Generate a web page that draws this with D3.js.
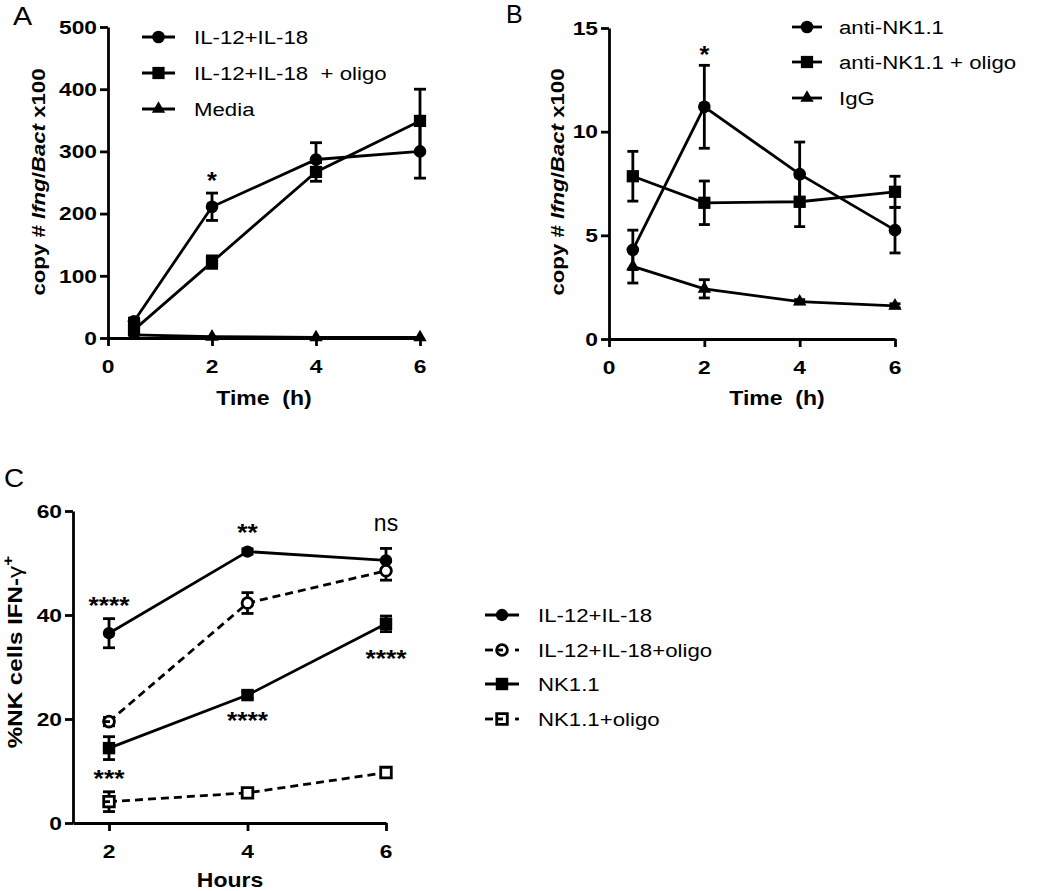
<!DOCTYPE html>
<html><head><meta charset="utf-8">
<script src="https://cdn.jsdelivr.net/npm/d3@7"></script>
<style>
body{margin:0;background:#fff}
svg{display:block}
text{font-family:"Liberation Sans",Arial,Helvetica,sans-serif;fill:#000;white-space:pre}
</style>
</head><body>
<svg id="chart" width="1050" height="891"></svg>
<script>
// ---------------- DATA ----------------
const timeAB = [0.5, 2, 4, 6];
const xTicksAB = [0, 2, 4, 6];
const yTicksA = [0, 100, 200, 300, 400, 500];
const yTicksB = [0, 5, 10, 15];

const seriesA_names = ["IL-12+IL-18", "IL-12+IL-18  + oligo", "Media"];
const aIL = [27, 211, 287, 300];
const aILerr = [5, 22, 27, 43];
const aOligo = [13, 122, 267, 349];
const aOligoErr = [8, 10, 15, 51];
const aMedia = [5, 2, 1, 1];
const aMediaErr = [0, 0, 0, 0];
const starsA = [{x: 2, y: 262, t: "*"}];

const seriesB_names = ["anti-NK1.1", "anti-NK1.1 + oligo", "IgG"];
const bNK = [4.3, 11.2, 7.95, 5.25];
const bNKerr = [0.95, 2.0, 1.55, 1.1];
const bOligo = [7.85, 6.57, 6.62, 7.1];
const bOligoErr = [1.2, 1.05, 1.2, 0.75];
const bIgG = [3.5, 2.42, 1.8, 1.6];
const bIgGerr = [0.8, 0.44, 0.1, 0.1];
const starsB = [{x: 2, y: 14.0, t: "*"}];

const timeC = [2, 4, 6];
const xTicksC = [2, 4, 6];
const yTicksC = [0, 20, 40, 60];
const seriesC_names = ["IL-12+IL-18", "IL-12+IL-18+oligo", "NK1.1", "NK1.1+oligo"];
const cIL = [36.5, 52.2, 50.5];
const cILerr = [2.8, 0.5, 2.3];
const cILo = [19.5, 42.3, 48.5];
const cILoErr = [0.8, 2.0, 1.8];
const cNK = [14.4, 24.6, 38.3];
const cNKerr = [2.2, 0.6, 1.5];
const cNKo = [4.1, 5.8, 9.7];
const cNKoErr = [1.9, 0.6, 0.5];
const starsC = [
  {x: 2, y: 42.9, t: "****"}, {x: 4, y: 56.9, t: "**"}, {x: 6, y: 57.3, t: "ns"},
  {x: 6, y: 32.7, t: "****"}, {x: 4, y: 20.8, t: "****"}, {x: 2, y: 9.6, t: "***"}
];

// ---------------- HELPERS ----------------
const svg = d3.select("#chart");
const SW = 2.8;

function stext(parent, x, y, parts, o) {
  const rot = o.rot ? ` rotate(${o.rot})` : "";
  const t = parent.append("text")
    .attr("transform", `translate(${x},${y})${rot} scale(${o.sx || 1},1)`)
    .attr("font-size", o.size)
    .attr("font-weight", o.weight || "normal")
    .attr("text-anchor", o.anchor || "start")
    .attr("xml:space", "preserve");
  if (typeof parts === "string") parts = [{t: parts}];
  parts.forEach(p => {
    const s = t.append("tspan").text(p.t);
    if (p.italic) s.attr("font-style", "italic");
    if (p.weight) s.attr("font-weight", p.weight);
    if (p.dy) s.attr("dy", p.dy);
    if (p.size) s.attr("font-size", p.size);
  });
  return t;
}

function axes(x, y, xt, yt) {
  const g = svg.append("g");
  const gx = g.append("g").attr("transform", `translate(0,${y.range()[0]})`)
    .call(d3.axisBottom(x).tickValues(xt).tickSize(8).tickSizeOuter(0));
  const gy = g.append("g").attr("transform", `translate(${x.range()[0]},0)`)
    .call(d3.axisLeft(y).tickValues(yt).tickSize(8).tickSizeOuter(0));
  g.selectAll(".domain, .tick line").attr("stroke", "#000").attr("stroke-width", SW);
  g.selectAll(".tick text").remove();
  xt.forEach(v => stext(gx, x(v), 35, String(v), {size: 19, weight: "bold", sx: 1.2, anchor: "middle"}));
  yt.forEach(v => stext(gy, -11, y(v) + 6.8, String(v), {size: 19, weight: "bold", sx: 1.2, anchor: "end"}));
  return g;
}

function symPath(kind, size) {
  const t = kind === "circle" ? d3.symbolCircle : kind === "square" ? d3.symbolSquare : d3.symbolTriangle;
  return d3.symbol().type(t).size(size)();
}

const SIZES = {circle: 125, square: 150, triangle: 78};
const OPEN_SIZES = {circle: 92, square: 112};

function drawMarker(g, cx, cy, s, inner) {
  const p = g.append("path").attr("d", symPath(s.symbol, s.open ? OPEN_SIZES[s.symbol] : (s.size || SIZES[s.symbol])))
    .attr("transform", `translate(${cx},${cy})`);
  if (s.open) {
    p.attr("fill", "#fff").attr("stroke", "#000").attr("stroke-width", SW);
    if (inner) {
      const h = 5.3;
      g.append("line").attr("x1", cx - h).attr("x2", cx + 1).attr("y1", cy).attr("y2", cy)
        .attr("stroke", "#000").attr("stroke-width", SW);
    }
  } else {
    p.attr("fill", "#000");
  }
}

function drawSeries(x, y, xs, series, cap) {
  const g = svg.append("g");
  const line = d3.line().x((d, i) => x(xs[i])).y(d => y(d));
  series.forEach(s => {
    g.append("path").datum(s.vals).attr("d", line).attr("fill", "none")
      .attr("stroke", "#000").attr("stroke-width", SW)
      .attr("stroke-dasharray", s.dash ? "8,5" : null);
  });
  series.forEach(s => {
    s.vals.forEach((v, i) => {
      const e = s.err[i];
      if (e > 0) {
        const cx = x(xs[i]);
        g.append("line").attr("x1", cx).attr("x2", cx).attr("y1", y(v - e)).attr("y2", y(v + e))
          .attr("stroke", "#000").attr("stroke-width", SW);
        [v - e, v + e].forEach(w => g.append("line").attr("x1", cx - cap).attr("x2", cx + cap)
          .attr("y1", y(w)).attr("y2", y(w)).attr("stroke", "#000").attr("stroke-width", SW));
      }
    });
  });
  series.forEach(s => {
    s.vals.forEach((v, i) => drawMarker(g, x(xs[i]), y(v), s, s.open && i === 0));
  });
}

function legend(x0, x1, xText, rows, series) {
  const g = svg.append("g");
  series.forEach((s, i) => {
    const cy = rows[i];
    const mid = (x0 + x1) / 2;
    if (s.dash) {
      g.append("line").attr("x1", x0).attr("x2", x0 + 8).attr("y1", cy).attr("y2", cy).attr("stroke", "#000").attr("stroke-width", SW);
      g.append("line").attr("x1", x1 - 4).attr("x2", x1).attr("y1", cy).attr("y2", cy).attr("stroke", "#000").attr("stroke-width", SW);
    } else {
      g.append("line").attr("x1", x0).attr("x2", x1).attr("y1", cy).attr("y2", cy).attr("stroke", "#000").attr("stroke-width", SW);
    }
    drawMarker(g, mid, cy, s, s.open);
    stext(g, xText, cy + 6.8, s.name, {size: 19, sx: 1.17});
  });
}

// ---------------- PANEL A ----------------
const xA = d3.scaleLinear().domain([0, 6]).range([108, 420]);
const yA = d3.scaleLinear().domain([0, 500]).range([338, 27]);
axes(xA, yA, xTicksAB, yTicksA);
const serA = [
  {name: seriesA_names[0], vals: aIL, err: aILerr, symbol: "circle"},
  {name: seriesA_names[1], vals: aOligo, err: aOligoErr, symbol: "square"},
  {name: seriesA_names[2], vals: aMedia, err: aMediaErr, symbol: "triangle"}
];
drawSeries(xA, yA, timeAB, serA, 6);
starsA.forEach(s => stext(svg, xA(s.x), yA(s.y) + 14, s.t, {size: 24, weight: "bold", sx: 1.05, anchor: "middle"}));
legend(142, 175, 194, [37, 73, 109], serA);
stext(svg, 13, 25, "A", {size: 25, sx: 1.15});
stext(svg, 264, 405, "Time  (h)", {size: 20, weight: "bold", sx: 1.15, anchor: "middle"});
stext(svg, 45, 182, [{t: "copy # "}, {t: "Ifng", italic: true}, {t: "/"}, {t: "Bact", italic: true}, {t: " x100"}],
  {size: 19, weight: "bold", sx: 1.17, anchor: "middle", rot: -90});

// ---------------- PANEL B ----------------
const xB = d3.scaleLinear().domain([0, 6]).range([609, 895]);
const yB = d3.scaleLinear().domain([0, 15]).range([339, 28]);
axes(xB, yB, xTicksAB, yTicksB);
const serB = [
  {name: seriesB_names[0], vals: bNK, err: bNKerr, symbol: "circle"},
  {name: seriesB_names[1], vals: bOligo, err: bOligoErr, symbol: "square"},
  {name: seriesB_names[2], vals: bIgG, err: bIgGerr, symbol: "triangle"}
];
drawSeries(xB, yB, timeAB, serB, 5.5);
starsB.forEach(s => stext(svg, xB(s.x), yB(s.y) + 14, s.t, {size: 24, weight: "bold", sx: 1.05, anchor: "middle"}));
legend(792, 822, 839, [27, 62, 98], serB);
stext(svg, 506, 23, "B", {size: 25, sx: 1.0});
stext(svg, 777, 405, "Time  (h)", {size: 20, weight: "bold", sx: 1.15, anchor: "middle"});
stext(svg, 564, 182, [{t: "copy # "}, {t: "Ifng", italic: true}, {t: "/"}, {t: "Bact", italic: true}, {t: " x100"}],
  {size: 19, weight: "bold", sx: 1.17, anchor: "middle", rot: -90});

// ---------------- PANEL C ----------------
const xC = d3.scaleLinear().domain([1.48, 6]).range([73, 386]);
const yC = d3.scaleLinear().domain([0, 60]).range([823, 511]);
axes(xC, yC, xTicksC, yTicksC);
const serC = [
  {name: seriesC_names[0], vals: cIL, err: cILerr, symbol: "circle", size: 120},
  {name: seriesC_names[1], vals: cILo, err: cILoErr, symbol: "circle", open: true, dash: true},
  {name: seriesC_names[2], vals: cNK, err: cNKerr, symbol: "square", size: 155},
  {name: seriesC_names[3], vals: cNKo, err: cNKoErr, symbol: "square", open: true, dash: true}
];
drawSeries(xC, yC, timeC, serC, 6);
starsC.forEach(s => {
  const isNs = s.t === "ns";
  stext(svg, xC(s.x), yC(s.y) + (isNs ? 6 : 14), s.t,
    {size: isNs ? 23 : 24, weight: isNs ? "normal" : "bold", sx: isNs ? 1.0 : 1.1, anchor: "middle"});
});
legend(485, 519, 538, [615, 650, 684, 719], serC);
stext(svg, 4, 487, "C", {size: 26, sx: 1.07});
stext(svg, 230, 887, "Hours", {size: 20, weight: "bold", sx: 1.15, anchor: "middle"});
stext(svg, 22, 652, [{t: "%NK cells IFN-"}, {t: "γ", weight: "normal"}, {t: "+", dy: -9, size: 15}],
  {size: 21, weight: "bold", sx: 1.15, anchor: "middle", rot: -90});
</script>
</body></html>
